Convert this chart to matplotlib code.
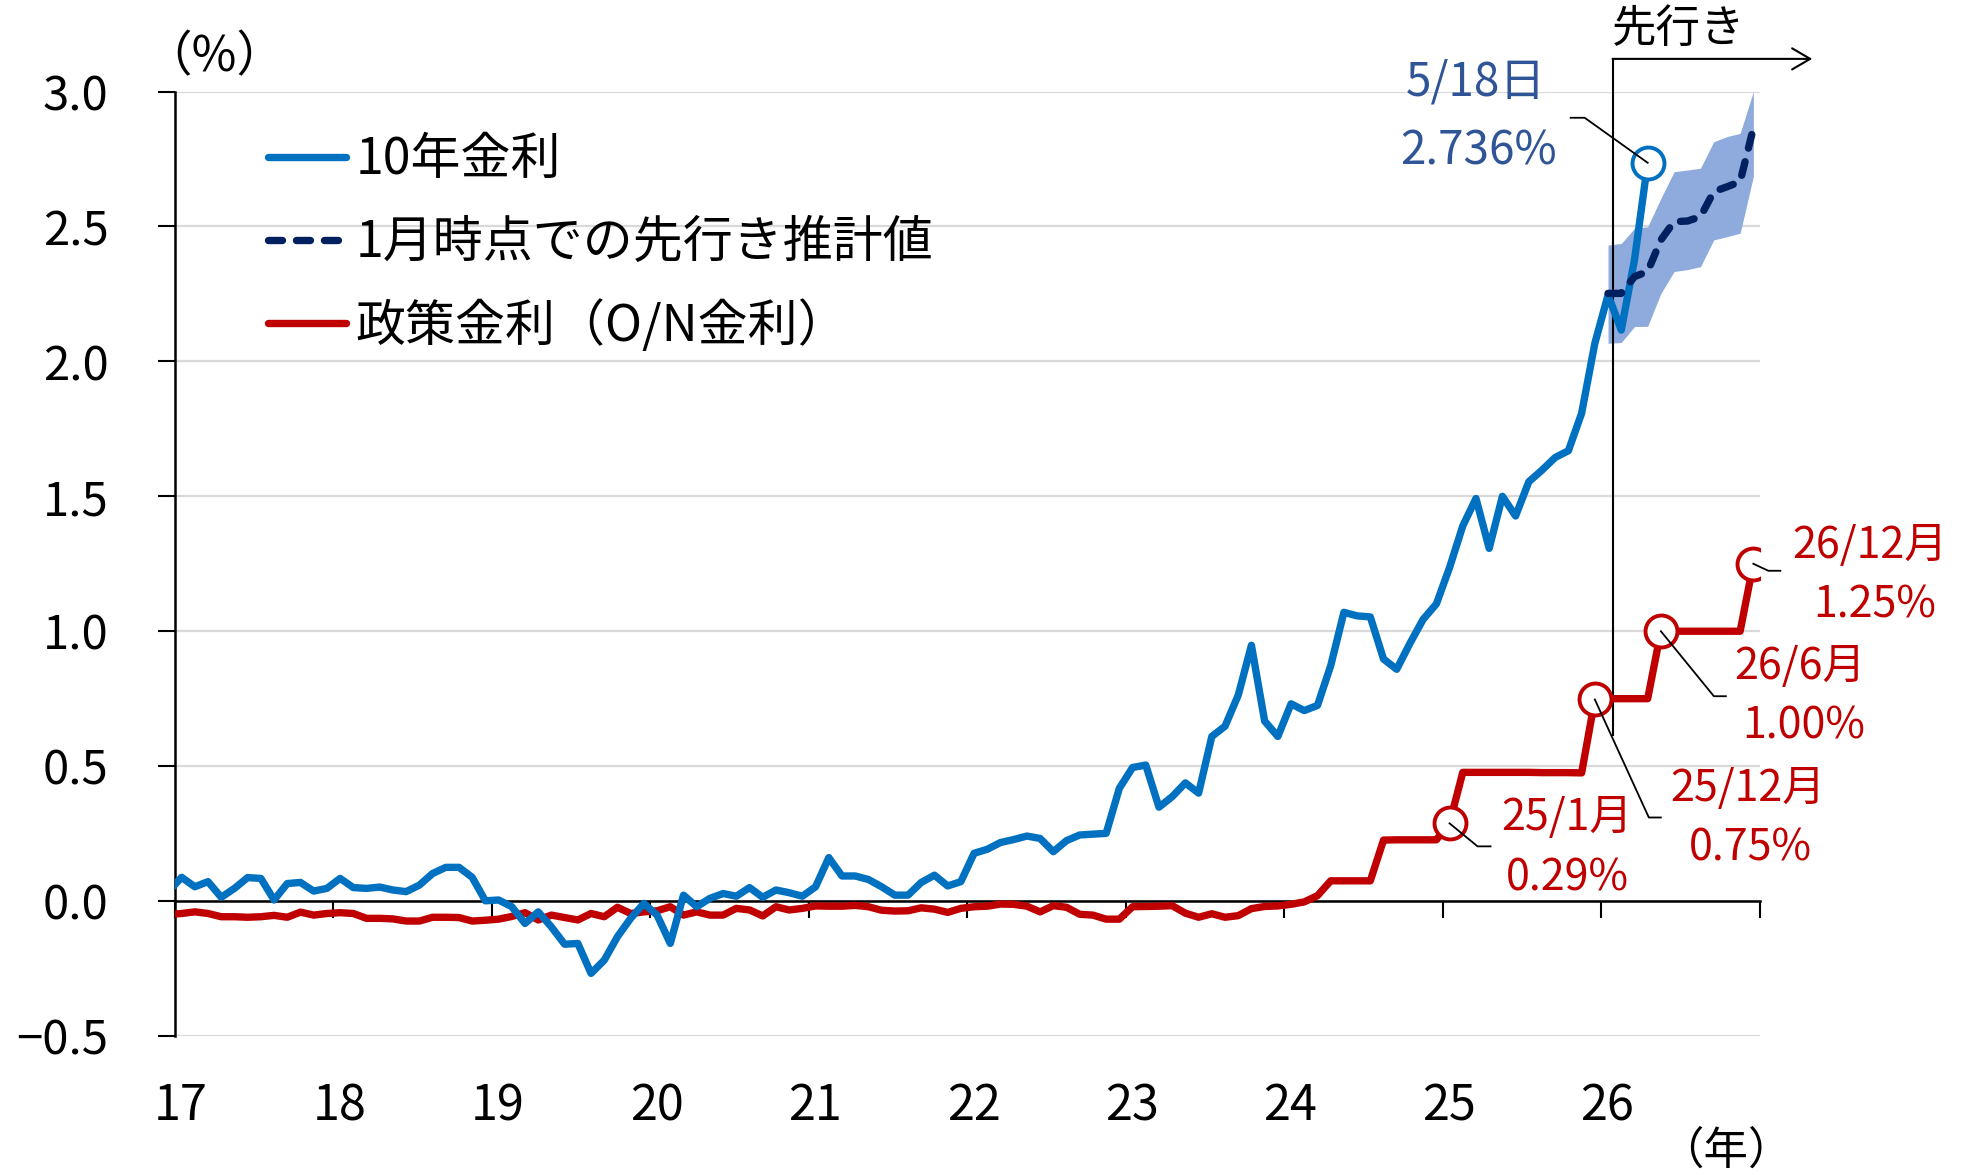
"""
10年金利・政策金利と先行き推計値の推移（月次）。
Артефакт: out.png
"""
import matplotlib
matplotlib.use("Agg")
import matplotlib.pyplot as plt
import matplotlib.transforms as mtrans
import numpy as np
import pandas as pd

plt.rcParams["font.family"] = ["Noto Sans CJK JP", "DejaVu Sans"]

BLUE = "#0070C0"
RED = "#C00000"
NAVY = "#002060"
BAND = "#8FAADC"
BLUE_TEXT = "#2F5597"

# 10年金利（月末, 2016/12〜, 最後は5/18日の値）
jgb10 = [
    0.035,
    0.088, 0.053, 0.072, 0.014, 0.047, 0.087, 0.084, 0.004, 0.065, 0.069, 0.037, 0.047,
    0.084, 0.050, 0.047, 0.052, 0.041, 0.035, 0.059, 0.102, 0.125, 0.125, 0.088, 0.001,
    0.004, -0.021, -0.083, -0.040, -0.096, -0.160, -0.157, -0.268, -0.219, -0.132, -0.064, -0.009,
    -0.052, -0.157, 0.022, -0.021, 0.010, 0.028, 0.018, 0.050, 0.014, 0.041, 0.031, 0.018,
    0.053, 0.161, 0.093, 0.093, 0.080, 0.053, 0.022, 0.022, 0.069, 0.096, 0.056, 0.072,
    0.177, 0.192, 0.217, 0.228, 0.241, 0.232, 0.183, 0.224, 0.245, 0.248, 0.251, 0.418,
    0.495, 0.504, 0.348, 0.387, 0.438, 0.400, 0.610, 0.648, 0.763, 0.948, 0.667, 0.610,
    0.731, 0.706, 0.725, 0.872, 1.070, 1.057, 1.053, 0.897, 0.859, 0.955, 1.044, 1.101,
    1.236, 1.390, 1.492, 1.307, 1.500, 1.427, 1.554, 1.597, 1.644, 1.669, 1.808, 2.067,
    2.246, 2.116, 2.376, 2.736,
]

# 政策金利（O/N金利, 2016/12〜, 2026年は想定）
call = [
    -0.050,
    -0.046, -0.040, -0.046, -0.058, -0.058, -0.060, -0.058, -0.053, -0.060, -0.041, -0.052, -0.046,
    -0.043, -0.046, -0.064, -0.064, -0.066, -0.074, -0.074, -0.060, -0.060, -0.061, -0.074, -0.071,
    -0.067, -0.057, -0.043, -0.070, -0.052, -0.061, -0.070, -0.046, -0.058, -0.023, -0.046, -0.040,
    -0.036, -0.021, -0.052, -0.040, -0.052, -0.052, -0.027, -0.033, -0.055, -0.021, -0.033, -0.027,
    -0.018, -0.019, -0.019, -0.016, -0.021, -0.034, -0.037, -0.036, -0.025, -0.030, -0.042, -0.027,
    -0.021, -0.019, -0.011, -0.012, -0.019, -0.040, -0.017, -0.023, -0.049, -0.052, -0.067, -0.067,
    -0.021, -0.020, -0.019, -0.017, -0.045, -0.060, -0.047, -0.060, -0.054, -0.028, -0.020, -0.018,
    -0.012, -0.003, 0.020, 0.075, 0.075, 0.075, 0.075, 0.226, 0.227, 0.227, 0.227, 0.227,
    0.288, 0.477, 0.477, 0.477, 0.477, 0.477, 0.477, 0.476, 0.476, 0.476, 0.475, 0.747,
    0.75, 0.75, 0.75, 0.75, 1.00, 1.00, 1.00, 1.00, 1.00, 1.00, 1.00, 1.25,
]

# 1月時点での先行き推計値（2026/1〜12）と推計幅
fc_mid = [2.252, 2.252, 2.314, 2.333, 2.450, 2.518, 2.520, 2.536, 2.629, 2.647, 2.666, 2.864]
fc_hi = [2.431, 2.437, 2.493, 2.499, 2.604, 2.703, 2.709, 2.716, 2.814, 2.833, 2.845, 3.000]
fc_lo = [2.067, 2.070, 2.129, 2.130, 2.252, 2.333, 2.340, 2.351, 2.450, 2.462, 2.475, 2.685]

years = list(range(2017, 2028))
year_labels = ["17", "18", "19", "20", "21", "22", "23", "24", "25", "26", ""]
y_ticks = [-0.5, 0.0, 0.5, 1.0, 1.5, 2.0, 2.5, 3.0]
y_labels = ["−0.5", "0.0", "0.5", "1.0", "1.5", "2.0", "2.5", "3.0"]

# 吹き出し: (ラベル, 値ラベル, 月, 引き出し線オフセット[px], 文字オフセット[px])
red_notes = [
    ("25/1月", "0.29%", "2025-01", [(28, -23), (41, -23)], (117, 5), (118, -55)),
    ("25/12月", "0.75%", "2025-12", [(54, -118), (66, -118)], (153, -90), (156, -149)),
    ("26/6月", "1.00%", "2026-05", [(53, -65), (65, -65)], (139, -36), (143, -95)),
    ("26/12月", "1.25%", "2026-12", [(15, -7), (27, -7)], (117, 18), (121, -42)),
]
blue_note = ("5/18日", "2.736%", [(-63, 45), (-77, 45)], (-172, 81), (-169, 12))

FORECAST_X = 2026.07  # 先行き区切り線
LW = 5.3


def month_pos(start, n):
    p = pd.period_range(start, periods=n, freq="M")
    return np.asarray(p.year + (p.month - 0.5) / 12, dtype=float), p


def leader(ax, x, y, offsets):
    px = ax.transData.transform((x, y))
    pts = np.array([px] + [px + np.array(o) for o in offsets])
    ax.plot(pts[:, 0], pts[:, 1], color="black", lw=1.3,
            transform=mtrans.IdentityTransform(), clip_on=False, zorder=8)


def main():
    x_b, _ = month_pos("2016-12", len(jgb10))
    x_r, p_r = month_pos("2016-12", len(call))
    x_f, _ = month_pos("2026-01", len(fc_mid))

    fig = plt.figure(figsize=(19.64, 11.75), dpi=100)
    ax = fig.add_axes([0.0891, 0.1183, 0.8070, 0.8038])
    ax.set_xlim(2017, 2027)
    ax.set_ylim(-0.5, 3.0)

    ax.fill_between(x_f, fc_lo, fc_hi, color=BAND, lw=0, zorder=1)
    ax.plot(x_r, call, color=RED, lw=LW, solid_joinstyle="round",
            solid_capstyle="round", zorder=3, label="政策金利（O/N金利）")
    ax.plot(x_b, jgb10, color=BLUE, lw=LW, solid_joinstyle="round",
            solid_capstyle="round", zorder=4, label="10年金利")
    ax.plot(x_f, fc_mid, color=NAVY, lw=LW, dashes=(1.9, 1.9),
            dash_capstyle="round", zorder=5, label="1月時点での先行き推計値")

    # 軸・目盛
    ax.set_yticks(y_ticks)
    ax.set_yticklabels(y_labels)
    ax.set_xticks(years)
    ax.set_xticklabels(year_labels)
    ax.yaxis.grid(True, color="#D9D9D9", lw=1.6, zorder=0)
    ax.set_axisbelow(True)
    for s in ("top", "right"):
        ax.spines[s].set_visible(False)
    ax.spines["bottom"].set_position(("data", 0))
    ax.spines["bottom"].set_linewidth(1.8)
    ax.spines["left"].set_linewidth(1.8)
    ax.tick_params(axis="y", direction="out", length=12, width=1.5, pad=36, labelsize=34)
    ax.tick_params(axis="x", direction="out", length=12, width=1.5, pad=118, labelsize=35)
    shift = mtrans.ScaledTranslation(6 / 100, 0, fig.dpi_scale_trans)
    for lab in ax.get_xticklabels():
        lab.set_transform(lab.get_transform() + shift)

    fig.text(0.109, 0.951, "（%）", fontsize=35, ha="center", va="center")
    fig.text(0.879, 0.021, "（年）", fontsize=32, ha="center", va="center")

    # 凡例
    h, l = ax.get_legend_handles_labels()
    order = [1, 2, 0]
    ax.legend([h[i] for i in order], [l[i] for i in order], loc="upper left",
              bbox_to_anchor=(0.0587, 0.955), frameon=False, fontsize=36,
              handlelength=1.55, handletextpad=0.2, labelspacing=0.62,
              borderpad=0, borderaxespad=0)

    # 先行き区切り
    ax.plot([FORECAST_X, FORECAST_X], [0.615, 3.121], color="black", lw=1.5,
            clip_on=False, zorder=2)
    ax.annotate("", xy=(2027.33, 3.121), xytext=(FORECAST_X, 3.121),
                arrowprops=dict(arrowstyle="->,head_length=0.65,head_width=0.38",
                                mutation_scale=20, lw=1.5, color="black",
                                shrinkA=0, shrinkB=0),
                annotation_clip=False)
    ax.text(2026.49, 3.23, "先行き", fontsize=32, ha="center", va="center",
            clip_on=False)

    # 10年金利の最新値
    xb, yb = x_b[-1], jgb10[-1]
    ax.plot([xb], [yb], "o", ms=23, mfc="white", mec=BLUE, mew=2.8, zorder=7)
    leader(ax, xb, yb, blue_note[2])
    for txt, off in ((blue_note[0], blue_note[3]), (blue_note[1], blue_note[4])):
        ax.annotate(txt, (xb, yb), xytext=off, textcoords="offset pixels",
                    ha="center", va="center", fontsize=33, color=BLUE_TEXT,
                    annotation_clip=False)

    # 政策金利の吹き出し
    months = [str(p) for p in p_r]
    for lab, val, m, offs, t1, t2 in red_notes:
        i = months.index(m)
        xr, yr = x_r[i], call[i]
        ax.plot([xr], [yr], "o", ms=23, mfc="white", mec=RED, mew=2.8, zorder=7)
        leader(ax, xr, yr, offs)
        for txt, off in ((lab, t1), (val, t2)):
            ax.annotate(txt, (xr, yr), xytext=off, textcoords="offset pixels",
                        ha="center", va="center", fontsize=31, color=RED,
                        annotation_clip=False)

    fig.savefig("out.png", dpi=100)


if __name__ == "__main__":
    main()
